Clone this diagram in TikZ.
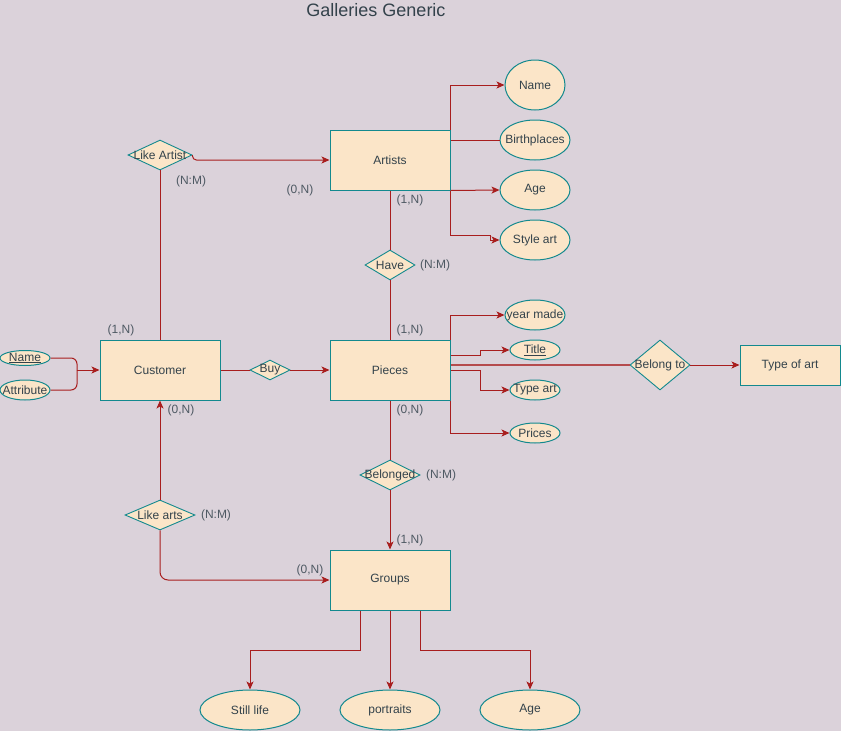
\documentclass[tikz,border=0pt]{standalone}
\usepackage{fontspec}
\setmainfont{Liberation Sans}
\usetikzlibrary{shapes.geometric,arrows.meta}
\definecolor{bgc}{RGB}{219,210,218}
\definecolor{fillc}{HTML}{FBE5C8}
\definecolor{tealc}{HTML}{13898E}
\definecolor{redc}{HTML}{A81E1E}
\definecolor{txtc}{HTML}{33424B}
\definecolor{labc}{HTML}{4E5963}
\newcommand{\ctr}[1]{\makebox[0pt]{#1}}
\begin{document}
\begin{tikzpicture}[x=1pt,y=-1pt,
  every node/.style={font=\fontsize{12}{14}\selectfont,text=txtc,inner sep=0pt},
  ent/.style={draw=tealc,fill=fillc,line width=1pt,minimum width=120,minimum height=60},
  attr/.style={ellipse,draw=tealc,fill=fillc,line width=1pt},
  rel/.style={diamond,draw=tealc,fill=fillc,line width=0.9pt},
  card/.style={text=labc},
  link/.style={draw=redc,line width=1pt},
  arrow/.style={link,-{Stealth[length=8pt,width=7pt,inset=2pt]}}]
\fill[bgc] (0,0) rectangle (841,731);
\useasboundingbox (0,0) rectangle (841,731);

\node[font=\fontsize{18}{21}\selectfont] (title) at (376,10) {Galleries Generic};

% entities
\node[ent] (art) at (390,160) {Artists};
\node[ent] (pc)  at (390,370) {Pieces};
\node[ent] (cus) at (160,370) {Customer};
\node[ent] (grp) at (390,580) {Groups};
\node[ent,minimum width=100,minimum height=40] (toa) at (790,365) {Type of art};

% relationships
\node[rel,minimum width=64,minimum height=30] (la)   at (160,155) {\ctr{Like Artist}};
\node[rel,minimum width=50,minimum height=30] (hv)   at (390,265) {\ctr{Have}};
\node[rel,minimum width=40,minimum height=20] (buy)  at (270,370) {\ctr{Buy}};
\node[rel,minimum width=60,minimum height=30] (bel)  at (390,475) {\ctr{Belonged}};
\node[rel,minimum width=70,minimum height=30] (lart) at (160,515) {\ctr{Like arts}};
\node[rel,minimum width=60,minimum height=50] (bt)   at (660,365) {\ctr{Belong to}};

% attributes
\node[attr,minimum width=60,minimum height=50] (an) at (535,85)  {\ctr{Name}};
\node[attr,minimum width=70,minimum height=40] (ab) at (535,140) {\ctr{Birthplaces}};
\node[attr,minimum width=70,minimum height=40] (aa) at (535,190) {\ctr{Age}};
\node[attr,minimum width=70,minimum height=40] (as) at (535,240) {\ctr{Style art}};

\node[attr,minimum width=60,minimum height=30] (ym) at (535,315) {\ctr{year made}};
\node[attr,minimum width=50,minimum height=20] (ti) at (535,350) {\ctr{\underline{Title}}};
\node[attr,minimum width=50,minimum height=20] (ta) at (535,390) {\ctr{Type art}};
\node[attr,minimum width=50,minimum height=20] (pr) at (535,433) {\ctr{Prices}};

\node[attr,minimum width=50,minimum height=15] (cn) at (25,358) {\ctr{\underline{Name}}};
\node[attr,minimum width=50,minimum height=20] (ca) at (25,390) {\ctr{Attribute}};

\node[attr,minimum width=100,minimum height=40] (sl) at (250,710) {Still life};
\node[attr,minimum width=100,minimum height=40] (po) at (390,710) {portraits};
\node[attr,minimum width=100,minimum height=40] (ga) at (530,710) {Age};

% cardinalities
\node[card] (c1)  at (191,181) {(N:M)};
\node[card] (c2)  at (300,190) {(0,N)};
\node[card] (c3)  at (410,200) {(1,N)};
\node[card] (c4)  at (435,265) {(N:M)};
\node[card] (c5)  at (410,330) {(1,N)};
\node[card] (c6)  at (121,330) {(1,N)};
\node[card] (c7)  at (181,410) {(0,N)};
\node[card] (c8)  at (410,410) {(0,N)};
\node[card] (c9)  at (441,475) {(N:M)};
\node[card] (c10) at (216,515) {(N:M)};
\node[card] (c11) at (410,540) {(1,N)};
\node[card] (c12) at (310,570) {(0,N)};

% connectors
\coordinate (sj)  at (490,235);
\coordinate (tj)  at (480,355);
\coordinate (tj2) at (480,370);
\coordinate (jn)  at (77,370);

\draw[arrow,rounded corners=4] (la.east) |- (art.west);
\draw[link] (la.south) -- (cus.north);
\draw[link] (art.south) -- (hv.north);
\draw[link] (hv.south) -- (pc.north);

\draw[arrow] (art.north east) |- (an.west);
\draw[link]  (art.east |- ab.west) -- (ab.west);
\draw[arrow] (art.south east) -- (aa.west);
\draw[arrow] (art.south east) |- (sj) |- (as.west);

\draw[arrow] (pc.north east) |- (ym.west);
\draw[arrow] (pc.east |- tj) -- (tj) |- (ti.west);
\draw[draw=redc!75!bgc,line width=1.6pt] (pc.east |- bt.west) -- (bt.west);
\draw[arrow] (bt.east) -- (toa.west);
\draw[arrow] (pc.east) -- (tj2) |- (ta.west);
\draw[arrow] (pc.south east) |- (pr.west);

\draw[link] (cus.east) -- (buy.west);
\draw[arrow] (buy.east) -- (pc.west);
\draw[link,rounded corners=6] (cn.east) -| (jn);
\draw[link,rounded corners=6] (ca.east) -| (jn);
\draw[arrow] (jn) -- (cus.west);

\draw[link] (pc.south) -- (bel.north);
\draw[arrow] (bel.south) -- (grp.north);
\draw[arrow] (lart.north) -- (cus.south);
\draw[arrow,rounded corners=8] (lart.south) |- (grp.west);

\draw[arrow] ([xshift=-30pt]grp.south) -- ++(0,40) -| (sl.north);
\draw[arrow] (grp.south) -- (po.north);
\draw[arrow] ([xshift=30pt]grp.south) -- ++(0,40) -| (ga.north);
\end{tikzpicture}
\end{document}
